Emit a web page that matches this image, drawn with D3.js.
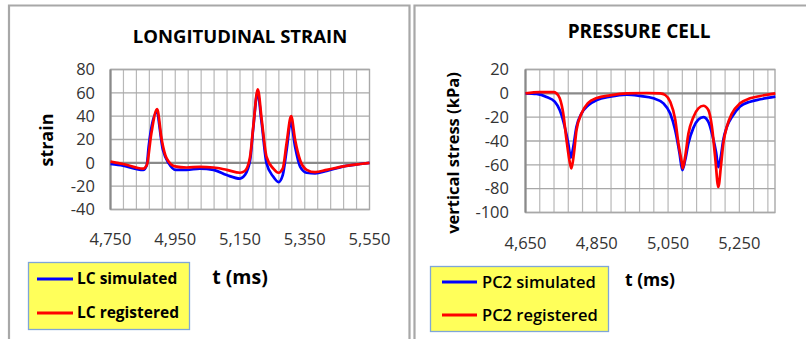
<!DOCTYPE html>
<html><head><meta charset="utf-8">
<script src="https://cdn.jsdelivr.net/npm/d3@7"></script>
<style>
html,body{margin:0;padding:0;background:#fff;}
svg{display:block;font-family:"Open Sans","Noto Sans",sans-serif;}
</style></head>
<body><svg id="c" width="806" height="339"></svg>
<script>
// ---------- DATA ----------
const lcXTicks = [4750, 4950, 5150, 5350, 5550];
const lcYTicks = [-40, -20, 0, 20, 40, 60, 80];
const lcSimT = [4750,4789,4851,4862,4868,4892,4912,4930,4951,4985,5026,5068,5109,5150,5165,5181,5191,5204,5217,5232,5253,5269,5282,5294,5307,5320,5336,5356,5382,5418,5470,5521,5550];
const lcSimV = [-1,-2.5,-6,-2,14,43,11,-0.5,-6,-6,-5,-6,-10.5,-13.5,-10.5,2,30,60,34,-0.5,-12,-16.5,-10.5,11,35,14,-3.5,-8.5,-9,-7,-3,-1,0];
const lcRegT = [4750,4770,4789,4851,4862,4876,4894,4908,4923,4949,4985,5026,5068,5109,5150,5165,5181,5191,5205,5217,5232,5253,5269,5282,5294,5308,5320,5336,5356,5382,5418,5470,5521,5550];
const lcRegV = [1,0,-1,-5,-2,25,46,20,4,-3,-4,-3.5,-4,-6,-8.5,-7,5,31,63,37,5,-5,-8.5,-5,17,40,20,2,-6,-8,-6,-3,-1,0];

const pcXTicks = [4650, 4850, 5050, 5250];
const pcYTicks = [-100, -80, -60, -40, -20, 0, 20];
const pcSimT = [4650,4681,4709,4732,4746,4760,4770,4777,4784,4793,4807,4826,4850,4887,4934,4971,5009,5037,5056,5070,5082,5090,5098,5107,5121,5135,5149,5163,5175,5185,5191,5198,5205,5215,5229,5252,5280,5309,5351];
const pcSimV = [0,-0.5,-3,-7,-14,-28,-42,-54,-45,-28,-17,-10,-5.6,-2.8,-1.1,-2.2,-4.2,-8.4,-17,-31,-50,-64.5,-56,-42,-29,-22,-20,-24,-36,-50,-62,-53,-39,-28,-20,-11,-7,-5,-2.8];
const pcRegT = [4650,4690,4728,4737,4746,4756,4765,4775,4779,4786,4793,4807,4826,4850,4887,4934,4990,5028,5042,5056,5070,5079,5089,5091,5098,5107,5121,5135,5149,5163,5173,5182,5191,5198,5205,5215,5229,5252,5280,5309,5351];
const pcRegV = [0,1,1,0,-4,-17,-39,-59,-63,-50,-31,-17,-8,-4,-1.7,0,0.3,0,-1.4,-7,-22,-42,-59,-63,-53,-34,-20,-12.6,-10.4,-14,-28,-53,-78.5,-62,-42,-28,-17,-8.4,-4.2,-2.2,0];

const lcSeriesNames = ["LC simulated", "LC registered"];
const pcSeriesNames = ["PC2 simulated", "PC2 registered"];
const seriesColors = ["#0000ff", "#ff0000"];

// ---------- DRAW ----------
const svg = d3.select("#c");
const fmt = d3.format(",");
const frameCol = "#a8a8a8";

svg.append("path").attr("d","M9,339 V5.5 H409.5 V339").attr("fill","none").attr("stroke",frameCol).attr("stroke-width",2.2);
svg.append("path").attr("d","M414.5,339 V5.5 H806").attr("fill","none").attr("stroke",frameCol).attr("stroke-width",2.2);

function chart(cfg){
  const g = svg.append("g");
  const x = d3.scaleLinear().domain(cfg.xDomain).range(cfg.xRange);
  const y = d3.scaleLinear().domain(cfg.yDomain).range(cfg.yRange);
  const [x0,x1] = cfg.xRange, [y0,y1] = cfg.yRange;
  const vg = d3.range(cfg.xDomain[0]+40, cfg.xDomain[1], 40);
  g.append("g").selectAll("line").data(vg).join("line")
    .attr("x1",d=>x(d)).attr("x2",d=>x(d)).attr("y1",y1).attr("y2",y0)
    .attr("stroke","#b8b8b8").attr("stroke-width",1.2);
  g.append("g").selectAll("line").data(cfg.yTicks.filter(d=>d!==0)).join("line")
    .attr("x1",x0).attr("x2",x1).attr("y1",d=>y(d)).attr("y2",d=>y(d))
    .attr("stroke","#a8a8a8").attr("stroke-width",1.4);
  g.append("rect").attr("x",x0).attr("y",y1).attr("width",x1-x0).attr("height",y0-y1)
    .attr("fill","none").attr("stroke","#a8a8a8").attr("stroke-width",1.4);
  g.append("line").attr("x1",x0).attr("x2",x0).attr("y1",y1).attr("y2",y0).attr("stroke","#8a8a8a").attr("stroke-width",2.2);
  g.append("line").attr("x1",x0).attr("x2",x1).attr("y1",y(0)).attr("y2",y(0)).attr("stroke","#8a8a8a").attr("stroke-width",2.4);
  g.append("g").selectAll("text").data(cfg.yTicks).join("text")
    .attr("x",cfg.yLabelX).attr("y",d=>y(d)).attr("dy","0.35em").attr("text-anchor","end")
    .attr("font-size",16.5).attr("fill","#333").text(d=>d);
  g.append("g").selectAll("text").data(cfg.xTicks).join("text")
    .attr("x",d=>x(d)).attr("y",cfg.xLabelY).attr("dy","0.35em").attr("text-anchor","middle")
    .attr("font-size",16.5).attr("fill","#333").text(d=>fmt(d));
  const line = d3.line().x(d=>x(d[0])).y(d=>y(d[1])).curve(d3.curveMonotoneX);
  cfg.series.forEach((s,i)=>{
    const pts = s.t.map((t,k)=>[t,s.v[k]]);
    g.append("path").attr("d",line(pts)).attr("fill","none")
      .attr("stroke",seriesColors[i]).attr("stroke-width",2.7).attr("stroke-linejoin","round");
  });
  g.append("text").attr("x",cfg.titleX).attr("y",cfg.titleY).attr("text-anchor","middle")
    .attr("font-size",cfg.titleSize).attr("font-weight","bold").attr("fill","#000").text(cfg.title);
  g.append("text").attr("transform",`translate(${cfg.yTitle[0]},${cfg.yTitle[1]}) rotate(-90)`)
    .attr("text-anchor","middle").attr("dy","0.35em").attr("font-size",cfg.yTitleSize).attr("font-weight","bold").attr("fill","#000").text(cfg.yTitleText);
  g.append("text").attr("x",cfg.xTitle[0]).attr("y",cfg.xTitle[1]).attr("dy","0.35em").attr("text-anchor","middle")
    .attr("font-size",cfg.xTitleSize).attr("font-weight","bold").attr("fill","#000").text("t (ms)");
  const L = cfg.legend;
  g.append("rect").attr("x",L.x).attr("y",L.y).attr("width",L.w).attr("height",L.h)
    .attr("fill","#ffff5a").attr("stroke","#7fa6d8").attr("stroke-width",1.3);
  cfg.names.forEach((n,i)=>{
    const yy = L.rows[i];
    g.append("line").attr("x1",L.lx0).attr("x2",L.lx1).attr("y1",yy).attr("y2",yy)
      .attr("stroke",seriesColors[i]).attr("stroke-width",3);
    g.append("text").attr("x",L.tx).attr("y",yy).attr("dy","0.35em").attr("font-size",L.fs)
      .attr("font-weight",L.fw).attr("fill","#000").text(n);
  });
}

chart({
  xDomain:[4750,5550], xRange:[110.5,369.5], yDomain:[-40,80], yRange:[209.5,69.5],
  xTicks:lcXTicks, yTicks:lcYTicks, yLabelX:95, xLabelY:239,
  series:[{t:lcSimT,v:lcSimV},{t:lcRegT,v:lcRegV}],
  title:"LONGITUDINAL STRAIN", titleX:240, titleY:43, titleSize:18.5,
  yTitle:[47,140], yTitleText:"strain", yTitleSize:18,
  xTitle:[240,277], xTitleSize:19.5,
  names:lcSeriesNames,
  legend:{x:28.5,y:262.5,w:161,h:67,rows:[279,313],lx0:37,lx1:73,tx:77,fs:15.5,fw:"bold"}
});
chart({
  xDomain:[4650,5350], xRange:[525.5,775], yDomain:[-100,20], yRange:[212.5,69.5],
  xTicks:pcXTicks, yTicks:pcYTicks, yLabelX:509, xLabelY:243,
  series:[{t:pcSimT,v:pcSimV},{t:pcRegT,v:pcRegV}],
  title:"PRESSURE CELL", titleX:639, titleY:38, titleSize:19,
  yTitle:[453,153], yTitleText:"vertical stress (kPa)", yTitleSize:16.5,
  xTitle:[650,280], xTitleSize:17.5,
  names:pcSeriesNames,
  legend:{x:430.5,y:266.5,w:178,h:65,rows:[282,315],lx0:442,lx1:477,tx:482,fs:16.5,fw:"600"}
});
</script></body></html>
